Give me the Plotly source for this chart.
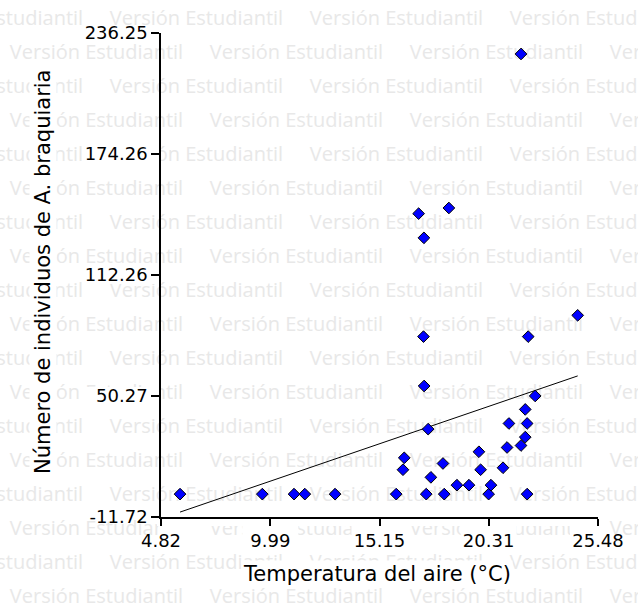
import numpy as np
import plotly.graph_objects as go

# ---- data ----
temperatura = [5.72, 9.61, 11.11, 11.62, 13.05, 15.94, 17.36, 18.21, 20.31, 22.13,
               16.32, 16.26, 17.58, 18.15, 18.81, 19.38, 19.85, 19.93, 20.42, 20.99,
               21.18, 21.27, 21.84, 22.04, 22.13, 22.04, 22.51, 17.45, 17.26, 17.23,
               22.18, 24.52, 21.84, 17.00, 18.43, 17.25]
individuos = [0, 0, 0, 0, 0, 0, 0, 0, 0, 0,
              18.6, 12.5, 8.6, 15.7, 4.6, 4.6, 21.7, 12.5, 4.6, 13.5,
              23.9, 36.2, 24.9, 29.2, 36.2, 43.4, 50.3, 33.3, 55.4, 80.7,
              80.7, 91.6, 225.5, 143.7, 146.6, 131.3]
x_ticks = [4.82, 9.99, 15.15, 20.31, 25.48]
y_ticks = [-11.72, 50.27, 112.26, 174.26, 236.25]
x_tick_text = ["4.82", "9.99", "15.15", "20.31", "25.48"]
y_tick_text = ["-11.72", "50.27", "112.26", "174.26", "236.25"]

W, H = 638, 605
ML, MR, MT, MB = 161, 40, 33, 88
PW, PH = W - ML - MR, H - MT - MB

def px2paper_x(px):
    return (px - ML) / PW

def px2paper_y(py):
    return (H - MB - py) / PH

# regression line (least squares on the points)
xs = np.array(temperatura)
ys = np.array(individuos)
b, a = np.polyfit(xs, ys, 1)
line_x = [xs.min(), xs.max()]
line_y = [a + b * v for v in line_x]

fig = go.Figure()
fig.add_trace(go.Scatter(x=line_x, y=line_y, mode="lines",
                         line=dict(color="black", width=1), hoverinfo="skip",
                         showlegend=False))
fig.add_trace(go.Scatter(x=temperatura, y=individuos, mode="markers",
                         marker=dict(symbol="diamond", size=9, color="#0000ff",
                                     line=dict(color="black", width=1)),
                         showlegend=False))

shapes = []
# watermark tiles
WM_TEXT = "Versión Estudiantil"
WM_W = 173
for k in range(18):
    yc = 18.3 + 34 * k
    start = 110 if k % 2 == 0 else 10
    xl = start - 200
    while xl < W:
        shapes.append(dict(
            type="rect", xref="paper", yref="paper",
            x0=px2paper_x(xl), x1=px2paper_x(xl + WM_W),
            y0=px2paper_y(yc + 10), y1=px2paper_y(yc - 10),
            line=dict(width=0), fillcolor="rgba(0,0,0,0)", layer="below",
            label=dict(text=WM_TEXT, textposition="middle center", padding=0,
                       font=dict(family="Open Sans", size=20, color="#e8e8e8"))))
        xl += 200

# white backgrounds behind tick labels
shapes.append(dict(type="rect", xref="paper", yref="paper",
                   x0=px2paper_x(ML - 4), x1=px2paper_x(W - MR + 4),
                   y0=px2paper_y(526), y1=px2paper_y(517),
                   line=dict(width=0), fillcolor="white", layer="below"))
for v in x_ticks:
    shapes.append(dict(type="rect", xref="x", yref="paper",
                       xsizemode="pixel", xanchor=v, x0=-28, x1=28,
                       y0=px2paper_y(553), y1=px2paper_y(517),
                       line=dict(width=0), fillcolor="white", layer="below"))
for v in y_ticks:
    shapes.append(dict(type="rect", xref="paper", yref="y",
                       ysizemode="pixel", yanchor=v, y0=-9, y1=9,
                       x0=px2paper_x(82), x1=px2paper_x(ML),
                       line=dict(width=0), fillcolor="white", layer="below"))

annotations = [
    dict(text="Temperatura del aire (°C)", xref="paper", yref="paper",
         x=px2paper_x(377), y=px2paper_y(574), xanchor="center", yanchor="middle",
         showarrow=False, bgcolor="white", borderpad=1,
         font=dict(family="DejaVu Sans", size=21, color="black")),
    dict(text="Número de individuos de A. braquiaria", xref="paper", yref="paper",
         x=px2paper_x(43), y=px2paper_y(272), xanchor="center", yanchor="middle",
         textangle=-90, showarrow=False, bgcolor="white", borderpad=1,
         font=dict(family="DejaVu Sans", size=21, color="black")),
]

axis_common = dict(showgrid=False, zeroline=False, showline=True, linecolor="black",
                   linewidth=1.5, ticks="outside", tickcolor="black", tickwidth=1.5,
                   tickfont=dict(family="DejaVu Sans", size=18, color="black"))
fig.update_layout(
    width=W, height=H,
    margin=dict(l=ML, r=MR, t=MT, b=MB),
    paper_bgcolor="white", plot_bgcolor="rgba(0,0,0,0)",
    xaxis=dict(range=[x_ticks[0], x_ticks[-1]], tickvals=x_ticks,
               ticktext=x_tick_text, ticklen=7, **axis_common),
    yaxis=dict(range=[y_ticks[0], y_ticks[-1]], tickvals=y_ticks,
               ticktext=y_tick_text, ticklen=8, **axis_common),
    shapes=shapes, annotations=annotations,
)
fig.write_html("out.html")
